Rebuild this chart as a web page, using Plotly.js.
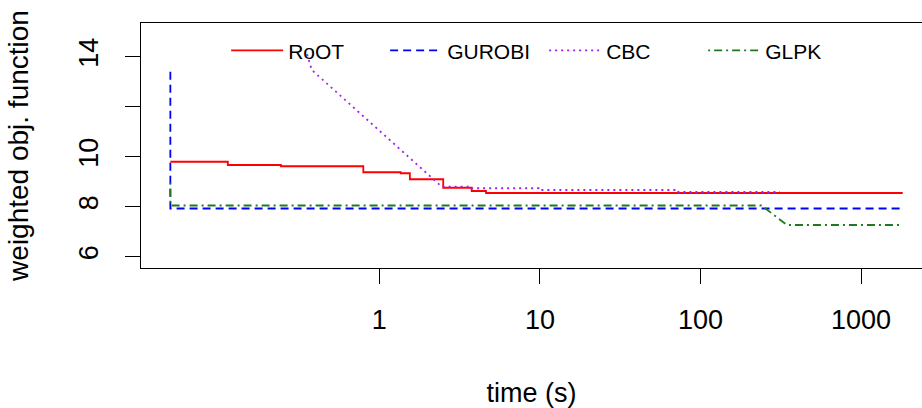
<!DOCTYPE html>
<html><head><meta charset="utf-8">
<script src="https://cdn.plot.ly/plotly-3.0.1.min.js"></script>
<style>html,body{margin:0;padding:0;background:#fff}</style>
</head><body><div id="chart" style="width:922px;height:408px"></div>
<script>
const seriesNames = ['RoOT', 'GUROBI', 'CBC', 'GLPK'];
const rootTime = [0.05, 0.114, 0.244, 0.795, 1.36, 1.55, 2.50, 3.76, 4.62, 1816];
const rootObj  = [9.80, 9.67, 9.62, 9.38, 9.34, 9.10, 8.76, 8.63, 8.55, 8.55];
const gurobiTime = [0.05, 0.05, 1816];
const gurobiObj  = [13.40, 7.93, 7.93];
const cbcTime = [0.355, 0.38, 2.45, 3.76, 3.76, 9.8, 9.8, 72.7, 72.7, 312];
const cbcObj  = [14.10, 13.47, 8.80, 8.80, 8.74, 8.74, 8.67, 8.67, 8.59, 8.59];
const glpkTime = [0.05, 0.05, 240, 345, 1816];
const glpkObj  = [8.96, 8.05, 8.05, 7.27, 7.27];
const xTickVals = [1, 10, 100, 1000];
const xTickText = ['1', '10', '100', '1000'];
const yTickVals = [6, 8, 10, 12, 14];
const yTickText = ['6', '8', '10', '', '14'];

const font = 'Liberation Sans, Arial, sans-serif';
const traces = [
  {x: rootTime, y: rootObj, name: seriesNames[0], mode: 'lines',
   line: {color: '#FF0000', width: 1.8, shape: 'hv'}},
  {x: gurobiTime, y: gurobiObj, name: seriesNames[1], mode: 'lines',
   line: {color: '#0000FF', width: 1.8, dash: '8px,5px'}},
  {x: cbcTime, y: cbcObj, name: seriesNames[2], mode: 'lines',
   line: {color: '#A020F0', width: 1.8, dash: '2px,4px'}},
  {x: glpkTime, y: glpkObj, name: seriesNames[3], mode: 'lines',
   line: {color: '#1f7a1f', width: 1.8, dash: '2px,4px,8px,4px'}}
];
const layout = {
  width: 922, height: 408,
  margin: {l: 141, r: 0, t: 23, b: 140, pad: 0},
  paper_bgcolor: '#fff', plot_bgcolor: '#fff',
  font: {family: font, color: '#000'},
  showlegend: true,
  legend: {orientation: 'h', x: 0.109, xanchor: 'left', y: 0.887, yanchor: 'middle',
    font: {size: 21, family: font, color: '#000'}, bgcolor: 'rgba(0,0,0,0)',
    entrywidth: 92, entrywidthmode: 'pixels', itemwidth: 52, traceorder: 'normal'},
  xaxis: {type: 'log', range: [-1.4838, 3.3792], tickvals: xTickVals, ticktext: xTickText,
    showgrid: false, zeroline: false, showline: true, mirror: true, linecolor: '#000', linewidth: 1,
    ticks: 'outside', ticklen: 15, tickwidth: 1, tickcolor: '#000',
    tickfont: {size: 27, family: font}, ticklabelstandoff: 13,
    title: {text: 'time (s)', font: {size: 27, family: font}, standoff: 48}, automargin: false},
  yaxis: {range: [5.55, 15.35], tickvals: yTickVals, ticktext: yTickText, tickangle: -90,
    showgrid: false, zeroline: false, showline: true, mirror: false, linecolor: '#000', linewidth: 1,
    ticks: 'outside', ticklen: 15, tickwidth: 1, tickcolor: '#000',
    tickfont: {size: 27, family: font}, ticklabelstandoff: 16,
    title: {text: 'weighted obj. function', font: {size: 28, family: font}, standoff: 37}, automargin: false}
};
Plotly.newPlot('chart', traces, layout, {staticPlot: true, displayModeBar: false});
</script></body></html>
